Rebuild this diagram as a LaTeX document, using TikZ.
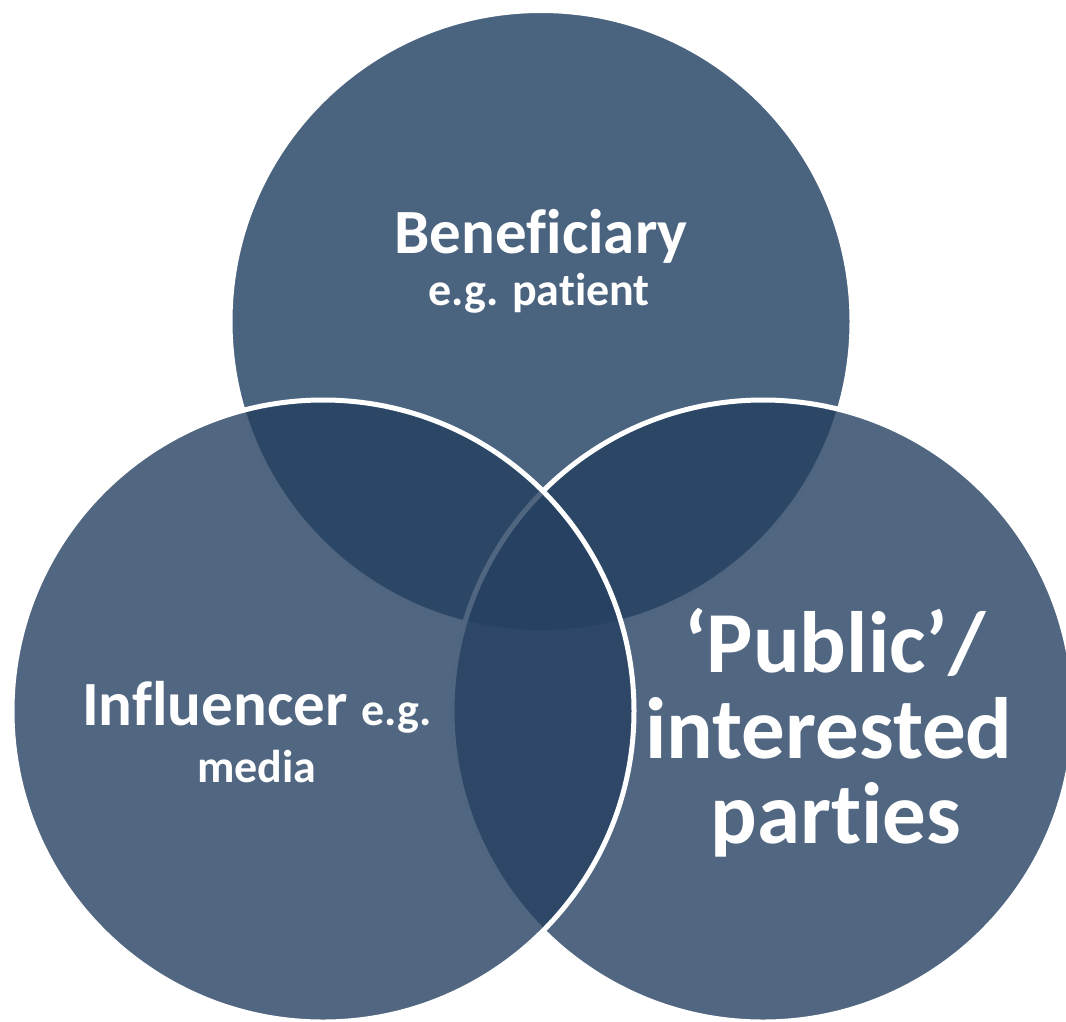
\documentclass[tikz,border=0pt]{standalone}
\usepackage{fontspec}
\setmainfont{Carlito}[Ligatures={NoCommon}]
\definecolor{topc}{RGB}{29,61,96}
\definecolor{sidec}{RGB}{37,64,97}
\begin{document}
\begin{tikzpicture}[x=1pt,y=-1pt,
  venn/.style={circle, inner sep=0pt, minimum size=622pt, draw=white, line width=5pt, fill opacity=0.8},
  big/.style={text=white, font=\bfseries\fontsize{63}{63}\selectfont, inner sep=0pt, anchor=base},
  small/.style={text=white, font=\bfseries\fontsize{46}{46}\selectfont, inner sep=0pt, anchor=base},
  huge/.style={text=white, font=\bfseries\fontsize{87}{87}\selectfont, inner sep=0pt, anchor=base}]
\useasboundingbox (0,0) rectangle (1066,1021);
\node[venn, fill=topc] (ben) at (541,321.5) {};
\node[venn, fill=sidec] (pub) at (763,711) {};
\node[venn, fill=sidec] (inf) at (323,711) {};
% texts
\node[big] (t1) at (541,253) {Beneficiary};
\node[small] (t2) at (539,305) {e.g. patient};
\node[big] (t3) at (257,725) {Influencer {\fontsize{46}{46}\selectfont e.g.}};
\node[small] (t4) at (257,782) {media};
\node[huge] (t5) at (835,672) {‘Public’/};
\node[huge] (t6) at (829,758) {interested};
\node[huge] (t7) at (836,843) {parties};
\end{tikzpicture}
\end{document}
